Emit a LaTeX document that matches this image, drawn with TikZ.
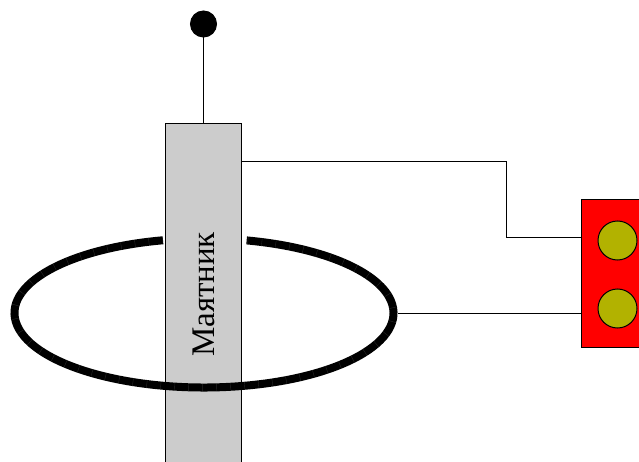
\documentclass[tikz,border=0pt]{standalone}
\usepackage{fontspec}
\usepackage[dvipsnames]{xcolor}
\setmainfont{Liberation Serif}
\usetikzlibrary{calc}
\definecolor{contactolive}{RGB}{178,178,0}
\definecolor{rodgray}{RGB}{204,204,204}
\tikzset{
  wire/.style={line width=1pt, black},
  part/.style={draw=black, line width=1pt, inner sep=0pt, outer sep=0pt},
  contact/.style={part, circle, fill=contactolive, minimum size=39pt},
}

\begin{document}
\begin{tikzpicture}[x=1pt, y=1pt]
                \useasboundingbox (0,0) rectangle (639,461);

                % ring sizes
                \pgfmathsetmacro{\rx}{189.5} % half width of the coil
                \pgfmathsetmacro{\ry}{74.5} % half height of the coil
                \pgfmathsetmacro{\gapl}{102.5} % coil starts left of the rod
                \pgfmathsetmacro{\gapr}{437} % coil ends right of the rod

                % rod, runs off the page
                \node[part, fill=rodgray, anchor=north, minimum width=76pt, minimum height=360pt] (rod) at (203.5,337.5) {};

                % ball on top of the rod
                \node[part, circle, fill=black, minimum size=26pt] (ball) at (203.5,437) {};
                \draw[wire] (ball) -- (rod.north);

                % coil
                \coordinate (coilc) at (204,148);
                \draw[line width=8pt, black] ($(coilc)+(\gapl:\rx pt and \ry pt)$) arc [start angle=\gapl, end angle=\gapr, x radius=\rx pt, y radius=\ry pt];
                \draw[line width=8pt, gray, opacity=0.3, dash pattern=on 0.4pt off 13.6pt] ($(coilc)+(\gapl:\rx pt and \ry pt)$) arc [start angle=\gapl, end angle=\gapr, x radius=\rx pt, y radius=\ry pt];
                \coordinate (coilout) at ($(coilc)+(\rx+4,0)$);

                % label of the rod
                \node[rotate=90, font=\fontsize{33}{33}\selectfont, inner sep=0pt] (label) at (204,166.5) {Маятник};

                % red block with two contacts, runs off the page
                \node[part, fill=red, anchor=north west, minimum width=70pt, minimum height=147pt] (block) at (581.5,261) {};
                \node[contact] (upper) at (617.5,220.5) {};
                \node[contact] (lower) at (617.5,152.5) {};

                % wires to the block
                \coordinate (rodtap) at (241.5,299.5);
                \coordinate (bendA) at (506,299.5);
                \coordinate (bendB) at (506,223.5);
                \coordinate (blockA) at (581.5,223.5);
                \coordinate (blockB) at (581.5,148);
                \draw[wire] (rodtap) -- (bendA) -- (bendB) -- (blockA);
                \draw[wire] (coilout) -- (blockB);
            \end{tikzpicture}
\end{document}
